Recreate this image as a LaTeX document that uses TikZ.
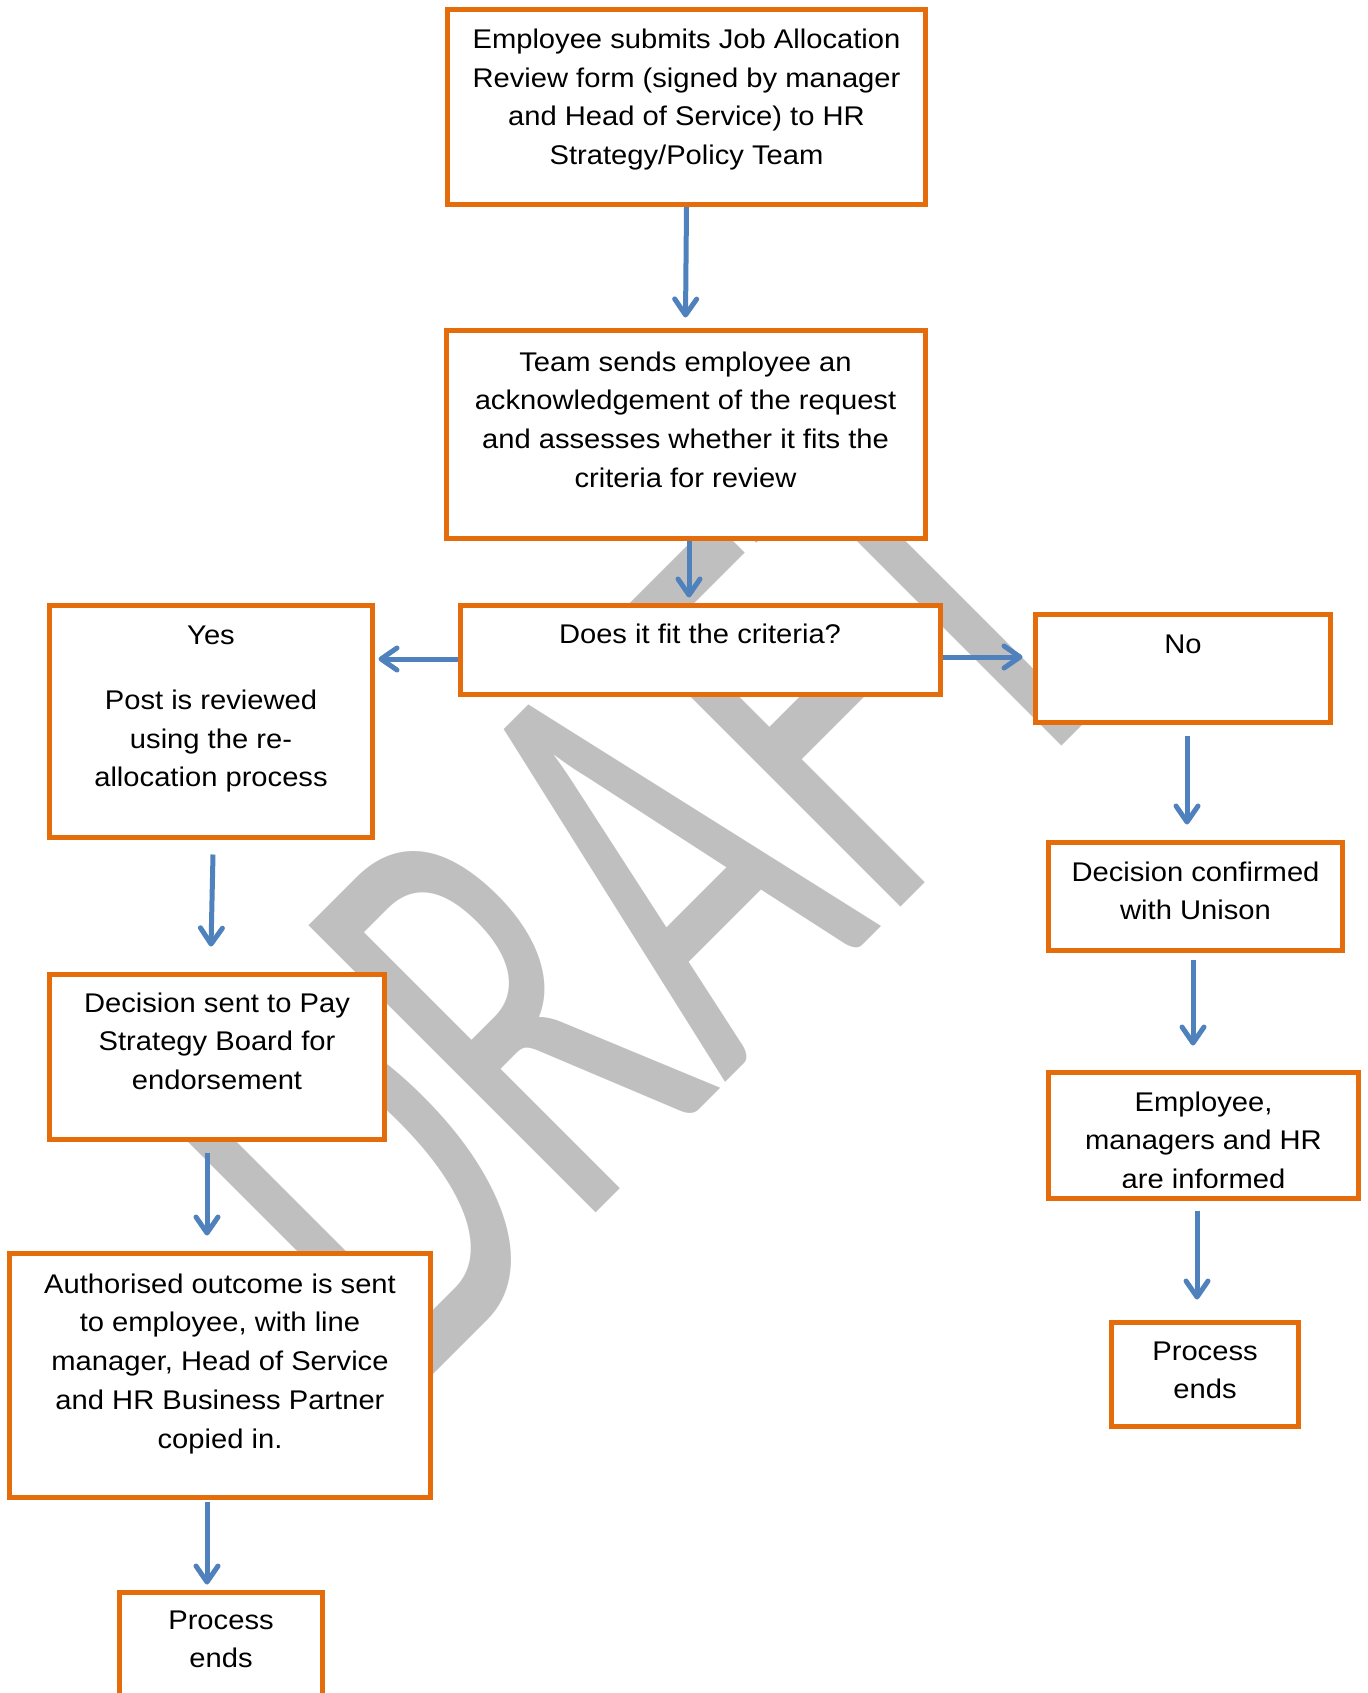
\documentclass[tikz,border=0pt]{standalone}
\usepackage{fontspec}
\setmainfont{Liberation Sans}[FakeStretch=1.08]
\newfontfamily\wmfont{Carlito}
\usetikzlibrary{arrows.meta}
\definecolor{boxorange}{RGB}{228,108,10}
\definecolor{arrowblue}{RGB}{79,129,189}
\definecolor{wmgray}{RGB}{191,191,191}
\newcommand\tstrut{\rule{0pt}{25pt}}
\begin{document}
\begin{tikzpicture}[x=1pt,y=-1pt,
  box/.style={draw=boxorange, line width=5pt, fill=white, inner sep=0pt, rectangle},
  txt/.style={anchor=north, inner sep=0pt, align=center, font=\fontsize{27}{38.7}\selectfont},
  arr/.style={draw=arrowblue, line width=5pt, -{Straight Barb[length=16pt,width=22pt,round]}},
  wm/.style={anchor=base west, inner sep=0pt, text=wmgray, rotate=45, xscale=0.61,
             font=\wmfont\fontsize{633}{633}\selectfont}]
\clip (0,0) rectangle (1367,1693);
\fill[white] (0,0) rectangle (1367,1693);
% watermark
\node[wm] (draft) at (408,1400) {DRAFT};
% boxes
\node[box, minimum width=478pt, minimum height=195pt] (b1) at (686.5,107) {};
\node[box, minimum width=479pt, minimum height=208pt] (b2) at (685.5,434) {};
\node[box, minimum width=480pt, minimum height=89pt] (crit) at (700,649.5) {};
\node[box, minimum width=323pt, minimum height=232pt] (yes) at (211,721.5) {};
\node[box, minimum width=295pt, minimum height=108pt] (no) at (1183,668.5) {};
\node[box, minimum width=294pt, minimum height=108pt] (dc) at (1195.5,896.5) {};
\node[box, minimum width=310pt, minimum height=126pt] (inf) at (1203.5,1135.5) {};
\node[box, minimum width=187pt, minimum height=104pt] (endR) at (1205,1374.5) {};
\node[box, minimum width=335pt, minimum height=165pt] (pay) at (217,1057) {};
\node[box, minimum width=421pt, minimum height=243.5pt] (auth) at (220,1375.25) {};
\node[box, minimum width=203pt, minimum height=127.5pt] (endL) at (221,1656.25) {};
% texts
\node[txt] (t1) at (686.5,23.3) {\tstrut Employee submits Job Allocation\\Review form (signed by manager\\and Head of Service) to HR\\Strategy/Policy Team};
\node[txt] (t2) at (685.5,346) {\tstrut Team sends employee an\\acknowledgement of the request\\and assesses whether it fits the\\criteria for review};
\node[txt] (t3) at (700,618) {\tstrut Does it fit the criteria?};
\node[txt] (t4) at (211,619) {\tstrut Yes\\[26.4pt]Post is reviewed\\using the re-\\allocation process};
\node[txt] (t5) at (1183,628) {\tstrut No};
\node[txt] (t6) at (1195.5,856) {\tstrut Decision confirmed\\with Unison};
\begin{scope}
\clip (1048.5,1072.5) rectangle (1358.5,1187);
\node[txt] (t7) at (1203.5,1086) {\tstrut Employee,\\managers and HR\\are informed};
\end{scope}
\node[txt] (t8) at (1205,1335) {\tstrut Process\\ends};
\node[txt] (t9) at (217,987) {\tstrut Decision sent to Pay\\Strategy Board for\\endorsement};
\node[txt] (t10) at (220,1268) {\tstrut Authorised outcome is sent\\to employee, with line\\manager, Head of Service\\and HR Business Partner\\copied in.};
\node[txt] (t11) at (221,1604) {\tstrut Process\\ends};
% connectors
\draw[arr] (b1.south) -- ([yshift=10pt]b2.north);
\draw[arr] ([xshift=3.5pt]b2.south) -- ([xshift=-11pt,yshift=5pt]crit.north);
\draw[arr] ([yshift=-9.5pt]crit.west) -- ([xshift=3.5pt,yshift=62.5pt]yes.east);
\draw[arr] ([yshift=-7.5pt]crit.east) -- ([xshift=-10.5pt,yshift=11.5pt]no.west);
\draw[arr] ([xshift=4pt,yshift=-10.5pt]no.south) -- ([xshift=-8.5pt,yshift=15.5pt]dc.north);
\draw[arr] ([xshift=-2.5pt,yshift=-6.5pt]dc.south) -- ([xshift=-10.5pt,yshift=24.5pt]inf.north);
\draw[arr] ([xshift=-6.5pt,yshift=-9.5pt]inf.south) -- ([xshift=-8pt,yshift=20.5pt]endR.north);
\draw[arr] ([xshift=2pt,yshift=-14.5pt]yes.south) -- ([xshift=-6pt,yshift=25.5pt]pay.north);
\draw[arr] ([xshift=-10pt,yshift=-10.5pt]pay.south) -- ([xshift=-13pt,yshift=15.5pt]auth.north);
\draw[arr] ([xshift=-13pt,yshift=-2pt]auth.south) -- ([xshift=-14pt,yshift=5.5pt]endL.north);
\end{tikzpicture}
\end{document}
